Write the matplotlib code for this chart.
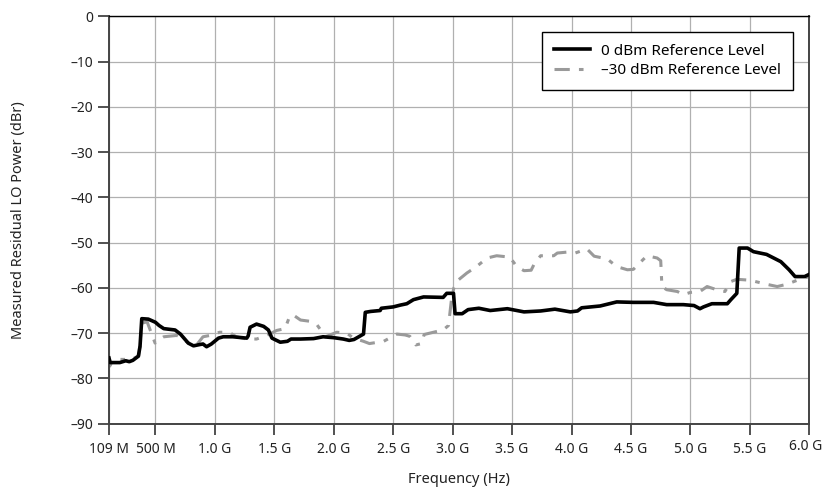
import numpy as np
import matplotlib
matplotlib.use("Agg")
import matplotlib.pyplot as plt
from matplotlib.transforms import ScaledTranslation

plt.rcParams['font.family'] = ['Noto Sans', 'DejaVu Sans']

# 0 dBm reference level (GHz, dBr)
ref0_freq = [0.109, 0.12, 0.2, 0.25, 0.28, 0.31, 0.356, 0.37, 0.385, 0.44, 0.50,
             0.53, 0.57, 0.665, 0.71, 0.776, 0.82, 0.876, 0.90, 0.93, 0.97,
             1.03, 1.07, 1.15, 1.268, 1.28, 1.296, 1.35, 1.41, 1.45, 1.48,
             1.55, 1.61, 1.64, 1.72, 1.83, 1.91, 2.0, 2.08, 2.13, 2.17, 2.21,
             2.25, 2.265, 2.31, 2.39, 2.40, 2.5, 2.56, 2.614, 2.67, 2.755,
             2.92, 2.95, 3.007, 3.02, 3.08, 3.13, 3.22, 3.316, 3.46, 3.6,
             3.74, 3.86, 3.99, 4.05, 4.085, 4.24, 4.38, 4.52, 4.69, 4.8,
             4.94, 5.03, 5.08, 5.11, 5.18, 5.31, 5.34, 5.39, 5.41, 5.48,
             5.53, 5.64, 5.76, 5.83, 5.88, 5.96, 6.0]
ref0_db = [-75.5, -76.5, -76.5, -76.1, -76.3, -76.0, -75.1, -73.0, -66.8, -66.9, -67.6,
           -68.3, -69.0, -69.3, -70.2, -72.2, -72.8, -72.5, -72.4, -73.0, -72.4,
           -71.1, -70.8, -70.8, -71.1, -70.6, -68.7, -68.0, -68.5, -69.3, -71.1,
           -72.0, -71.8, -71.3, -71.3, -71.2, -70.8, -71.0, -71.3, -71.6, -71.4, -70.8,
           -70.2, -65.4, -65.2, -65.0, -64.5, -64.2, -63.8, -63.5, -62.6, -62.0,
           -62.1, -61.2, -61.2, -65.7, -65.7, -64.8, -64.5, -65.0, -64.6, -65.3,
           -65.1, -64.7, -65.3, -65.1, -64.4, -64.0, -63.1, -63.2, -63.2, -63.7,
           -63.7, -63.9, -64.6, -64.2, -63.5, -63.5, -62.6, -61.2, -51.2, -51.2,
           -52.0, -52.6, -54.2, -56.0, -57.5, -57.5, -57.0]

# -30 dBm reference level (GHz, dBr)
ref30_freq = [0.109, 0.115, 0.14, 0.2, 0.30, 0.36, 0.385, 0.43, 0.497, 0.53, 0.57,
              0.68, 0.78, 0.84, 0.90, 0.96, 1.04, 1.12, 1.18, 1.27, 1.35, 1.436,
              1.52, 1.59, 1.63, 1.66, 1.72, 1.805, 1.86, 1.89, 1.93, 2.025,
              2.11, 2.165, 2.25, 2.30, 2.42, 2.475, 2.53, 2.60, 2.64, 2.69,
              2.74, 2.76, 2.87, 2.92, 2.965, 2.99, 3.01, 3.05, 3.12, 3.2,
              3.29, 3.37, 3.48, 3.54, 3.6, 3.66, 3.69, 3.74, 3.85, 3.88, 3.96,
              4.03, 4.13, 4.19, 4.3, 4.38, 4.47, 4.52, 4.58, 4.635, 4.72, 4.75,
              4.76, 4.8, 4.89, 4.94, 5.0, 5.08, 5.14, 5.22, 5.29, 5.34, 5.39,
              5.5, 5.64, 5.73, 5.81, 5.93, 6.0]
ref30_db = [-75.1, -77.3, -76.0, -75.8, -75.8, -75.0, -67.8, -67.5, -72.2, -71.4, -70.8,
            -70.5, -72.2, -72.8, -70.8, -70.5, -69.8, -69.8, -70.8, -71.3, -71.3, -70.5,
            -69.4, -69.0, -66.2, -66.0, -67.1, -67.4, -68.2, -69.3, -70.8, -69.8,
            -70.0, -71.1, -71.8, -72.3, -71.8, -71.0, -70.2, -70.4, -70.7, -72.6,
            -72.3, -70.3, -69.6, -69.3, -68.3, -62.5, -60.0, -58.2, -56.7, -55.3,
            -53.4, -52.9, -53.2, -55.3, -56.2, -56.1, -54.5, -52.9, -52.9, -52.3, -52.1,
            -52.3, -51.4, -53.0, -53.6, -55.3, -56.0, -55.9, -54.3, -52.9, -53.4, -54.0,
            -59.7, -60.4, -60.8, -61.5, -61.0, -60.8, -59.7, -60.4, -60.8, -58.6, -58.1,
            -58.3, -59.2, -59.7, -59.2, -58.0, -57.5]

xtick_vals = [0.109, 0.5, 1.0, 1.5, 2.0, 2.5, 3.0, 3.5, 4.0, 4.5, 5.0, 5.5, 6.0]
xtick_labels = ['109 M', '500 M', '1.0 G', '1.5 G', '2.0 G', '2.5 G', '3.0 G',
                '3.5 G', '4.0 G', '4.5 G', '5.0 G', '5.5 G', '6.0 G']
ytick_vals = list(range(-90, 1, 10))

fig = plt.figure(figsize=(8.23, 4.91), dpi=100)
ax = fig.add_axes([0.1324, 0.1371, 0.851, 0.8297])

ax.plot(ref0_freq, ref0_db, color='black', lw=2.6, solid_joinstyle='round',
        label='0 dBm Reference Level', zorder=3)
ax.plot(ref30_freq, ref30_db, color='#9a9a9a', lw=2.2, dashes=(5, 3, 1.5, 3),
        label='\u201330 dBm Reference Level', zorder=2)

ax.set_xlim(0.109, 6.0)
ax.set_ylim(-90, 0)
ax.set_xticks(xtick_vals)
ax.set_xticklabels(xtick_labels)
ax.set_yticks(ytick_vals)
ax.set_yticklabels([str(v).replace('-', '\u2013') for v in ytick_vals])
ax.grid(True, color='#b0b0b0', lw=0.9)
ax.set_axisbelow(True)

ax.tick_params(axis='both', direction='out', length=8, width=1.2,
               color='#333333', labelsize=10, labelcolor='#222222')
ax.tick_params(axis='x', pad=5)

# last x label sits flush with the right edge, a little higher
last = ax.get_xticklabels()[-1]
last.set_horizontalalignment('right')
last.set_transform(last.get_transform() + ScaledTranslation(13 / 100, 3 / 100, fig.dpi_scale_trans))

for side in ['left', 'bottom', 'right']:
    ax.spines[side].set_color('#444444')
    ax.spines[side].set_linewidth(1.4)
ax.spines['top'].set_color('black')
ax.spines['top'].set_linewidth(1.0)

ax.set_xlabel('Frequency (Hz)', fontsize=10.5, color='#222222')
ax.xaxis.set_label_coords(0.5, -0.118)
ax.set_ylabel('Measured Residual LO Power (dBr)', fontsize=10.5, color='#222222')
ax.yaxis.set_label_coords(-0.118, 0.5)

leg = ax.legend(loc='upper right', bbox_to_anchor=(0.976, 0.961), fontsize=11,
                frameon=True, fancybox=False, edgecolor='black', framealpha=1,
                borderaxespad=0, handlelength=2.4, borderpad=0.75, labelspacing=0.3,
                handletextpad=0.7)
leg.get_frame().set_linewidth(1.0)

fig.savefig('out.png', dpi=100)
